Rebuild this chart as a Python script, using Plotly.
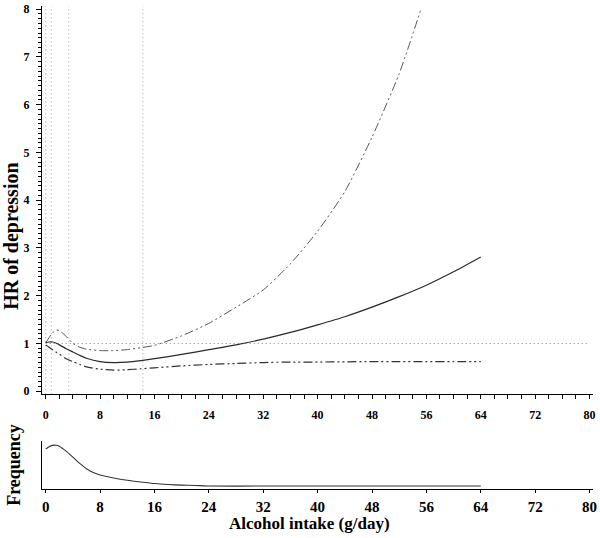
import plotly.graph_objects as go

# ---- data ----
alcohol = [0, 0.5, 1, 1.5, 2, 3, 4, 5, 6, 8, 10, 12, 14, 16, 20, 24, 28, 32, 36, 40, 44, 48, 52, 56, 60, 64]
hr = [1.02, 1.03, 1.03, 1.01, 0.97, 0.89, 0.82, 0.75, 0.69, 0.62, 0.60, 0.61, 0.64, 0.68, 0.77, 0.87,
      0.97, 1.09, 1.23, 1.39, 1.56, 1.76, 1.98, 2.22, 2.50, 2.81]
lower_ci = [0.97, 0.92, 0.87, 0.82, 0.78, 0.68, 0.62, 0.56, 0.51, 0.46, 0.44, 0.45, 0.47, 0.49, 0.53, 0.56,
            0.58, 0.60, 0.61, 0.61, 0.615, 0.62, 0.62, 0.62, 0.62, 0.62]

alcohol_upper = [0, 0.5, 1, 1.5, 2, 3, 4, 5, 6, 8, 10, 12, 14, 16, 20, 24, 28, 32, 36, 40, 44, 48, 52, 55.2]
upper_ci = [1.02, 1.12, 1.22, 1.28, 1.27, 1.15, 1.00, 0.92, 0.88, 0.85, 0.85, 0.87, 0.91, 0.96, 1.16, 1.42,
            1.76, 2.12, 2.67, 3.35, 4.18, 5.32, 6.65, 8.0]

freq_x = [0, 0.5, 1, 1.5, 2, 3, 4, 5, 6, 7, 8, 10, 12, 14, 16, 18, 20, 22, 24, 32, 40, 48, 56, 64]
freq_y = [40.5, 43.0, 44.3, 44.5, 43.5, 38.5, 32.3, 26.0, 20.6, 16.8, 14.3, 11.3, 9.0, 7.2, 5.6, 4.6,
          4.0, 3.7, 3.1, 3.1, 3.1, 3.1, 3.1, 3.1]

knots = [0, 0.83, 3.39, 14.3]
reference_hr = 1
x_ticks = list(range(0, 81, 8))
y_ticks = list(range(0, 9))

W, H = 600, 538
FONT = "Liberation Serif"

def px(x):
    return x / W

def py(y):
    return 1 - y / H

fig = go.Figure()

dashdotdot = "9px,3px,2px,3px,2px,3px"

fig.add_trace(go.Scatter(x=alcohol_upper, y=upper_ci, mode="lines",
                         line=dict(color="#555555", width=1, dash=dashdotdot, shape="spline", smoothing=0.6),
                         xaxis="x", yaxis="y", showlegend=False, hoverinfo="skip"))
fig.add_trace(go.Scatter(x=alcohol, y=lower_ci, mode="lines",
                         line=dict(color="#333333", width=1.2, dash=dashdotdot, shape="spline", smoothing=0.6),
                         xaxis="x", yaxis="y", showlegend=False, hoverinfo="skip"))
fig.add_trace(go.Scatter(x=alcohol, y=hr, mode="lines",
                         line=dict(color="#2a2a2a", width=1.2, shape="spline", smoothing=0.6),
                         xaxis="x", yaxis="y", showlegend=False, hoverinfo="skip"))
fig.add_trace(go.Scatter(x=freq_x, y=freq_y, mode="lines",
                         line=dict(color="#333333", width=1.1, shape="spline", smoothing=0.6),
                         xaxis="x2", yaxis="y2", showlegend=False, hoverinfo="skip"))

for k in knots:
    fig.add_shape(type="line", xref="x", yref="y domain", x0=k, x1=k, y0=0, y1=1,
                  line=dict(color="#a0a0a0", width=1, dash="1px,3px"), layer="below")
fig.add_shape(type="line", xref="x", yref="y", x0=x_ticks[0], x1=x_ticks[-1],
              y0=reference_hr, y1=reference_hr,
              line=dict(color="#808080", width=1, dash="1px,3px"), layer="below")

# x: 0 -> 46px, 80 -> 593.5px ; axis line spans 42.3..596.7px
xdom = [px(42.3), px(596.7)]
scale_x = (593.5 - 46) / 80
xr = [(42.3 - 46) / scale_x, (596.7 - 46) / scale_x]

# y (upper): 0 -> 393.3px, 8 -> 6.3px ; axis spans 3..396.5px
scale_y = (393.3 - 6.3) / 8
yr = [(393.3 - 396.5) / scale_y, (393.3 - 3) / scale_y]

fig.update_layout(
    width=W, height=H, autosize=False,
    margin=dict(l=0, r=0, t=0, b=0),
    paper_bgcolor="white", plot_bgcolor="white",
    font=dict(family=FONT, color="black"),
    xaxis=dict(domain=xdom, range=xr, anchor="y", showline=True, linecolor="black", linewidth=1.3,
               ticks="outside", ticklen=4, tickwidth=1.2, tickcolor="black", tickvals=x_ticks,
               minor=dict(ticks="outside", tick0=0, dtick=2, ticklen=4, tickwidth=1, tickcolor="black"),
               tickfont=dict(family=FONT, size=12, weight="bold"), showgrid=False, zeroline=False,
               ticklabelstandoff=5, ticklabeloverflow="allow"),
    yaxis=dict(domain=[py(396.5), py(3)], range=yr, anchor="x", showline=True,
               linecolor="black", linewidth=1.3, ticks="outside", ticklen=5, tickwidth=1.2,
               tickcolor="black", tickvals=y_ticks,
               minor=dict(ticks="outside", tick0=0, dtick=0.1, ticklen=3, tickwidth=1, tickcolor="black"),
               tickfont=dict(family=FONT, size=12, weight="bold"), showgrid=False, zeroline=False,
               ticklabelstandoff=4, ticklabeloverflow="allow"),
    xaxis2=dict(domain=xdom, range=xr, anchor="y2", showline=True, linecolor="black", linewidth=1.3,
                ticks="outside", ticklen=3, tickwidth=1.2, tickcolor="black", tickvals=x_ticks,
                tickfont=dict(family=FONT, size=15, weight="bold"), showgrid=False, zeroline=False,
                ticklabelstandoff=1, ticklabeloverflow="allow"),
    yaxis2=dict(domain=[py(492.5), py(444)], range=[0, 48.5], anchor="x2", showline=True,
                linecolor="black", linewidth=1.3, ticks="", showticklabels=False,
                showgrid=False, zeroline=False),
    annotations=[
        dict(text="HR of depression", x=px(12), y=py(236), xref="paper", yref="paper",
             textangle=-90, showarrow=False, xanchor="center", yanchor="middle",
             font=dict(family=FONT, size=20, weight="bold")),
        dict(text="Frequency", x=px(14), y=py(468), xref="paper", yref="paper",
             textangle=-90, showarrow=False, xanchor="center", yanchor="middle",
             font=dict(family=FONT, size=18, weight="bold")),
        dict(text="Alcohol intake (g/day)", x=px(312), y=0, xref="paper", yref="paper",
             showarrow=False, xanchor="center", yanchor="bottom", borderpad=0,
             font=dict(family=FONT, size=17, weight="bold")),
    ],
)

fig.write_html("out.html", config={"displayModeBar": False, "responsive": False},
               post_script="document.body.style.margin='0';document.body.style.overflow='hidden';")
